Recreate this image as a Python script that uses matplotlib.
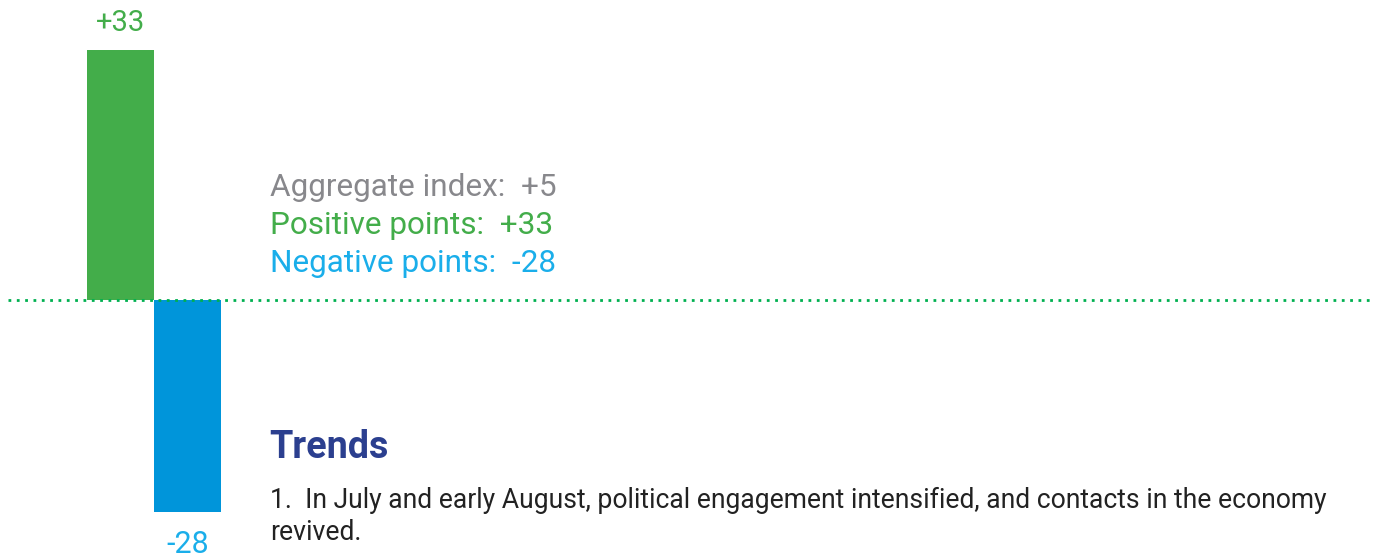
import matplotlib.pyplot as plt

W, H = 1381, 557

categories = ["Positive points", "Negative points"]
values = [33, -28]
aggregate = 5
bar_colours = ["#43ad4a", "#0095da"]
label_colours = ["#43ad4a", "#1aaeea"]

legend_lines = [
    (f"Aggregate index:  +{aggregate}", "#88888c"),
    (f"Positive points:  +{values[0]}", "#43ad4a"),
    (f"Negative points:  {values[1]}", "#1aaeea"),
]
heading = "Trends"
body = ["1.  In July and early August, political engagement intensified, and contacts in the economy",
        "revived."]

plt.rcParams["font.family"] = ["Roboto", "DejaVu Sans"]

fig = plt.figure(figsize=(W / 100, H / 100), dpi=100)
ax = fig.add_axes([0, 0, 1, 1])

# pixel geometry: zero line 300px from top, ~7.57 px per point, bar width 67 px
px_per_unit = 7.57
zero_y = 300
bar_px = 67
x0_px = 120.5
ax.set_ylim(-(H - zero_y) / px_per_unit, zero_y / px_per_unit)
ax.set_xlim(-x0_px / bar_px, (W - x0_px) / bar_px)
ax.axis("off")

xs = list(range(len(values)))
ax.bar(xs, values, width=1.0, color=bar_colours, zorder=2)

# value labels above / below the bars
for x, v, c in zip(xs, values, label_colours):
    if v > 0:
        ax.annotate(f"+{v}", (x, v), xytext=(0, 27), textcoords="offset pixels",
                    ha="center", va="center", color=c, fontsize=21)
    else:
        ax.annotate(f"{v}", (x, v), xytext=(0, -33), textcoords="offset pixels",
                    ha="center", va="center", color=c, fontsize=22)

# dotted zero line
lx0 = (8 - x0_px) / bar_px
lx1 = (1373 - x0_px) / bar_px
ax.plot([lx0, lx1], [0, 0], color="#00b050", lw=2, linestyle=(0, (1, 2)),
        dash_capstyle="butt", zorder=3)


def fx(px):
    return px / W


def fy(py):
    return 1 - py / H


for i, (txt, c) in enumerate(legend_lines):
    fig.text(fx(270), fy(187 + i * 38.5), txt, color=c, fontsize=22.7, va="center", ha="left")

fig.text(fx(269), fy(447), heading, color="#2b3f8f", fontsize=27.2, fontweight="bold",
         va="center", ha="left")
fig.text(fx(270), fy(500), body[0], color="#222222", fontsize=19.1, va="center", ha="left")
fig.text(fx(270), fy(532), body[1], color="#222222", fontsize=19.1, va="center", ha="left")

fig.savefig("out.png", dpi=100)
